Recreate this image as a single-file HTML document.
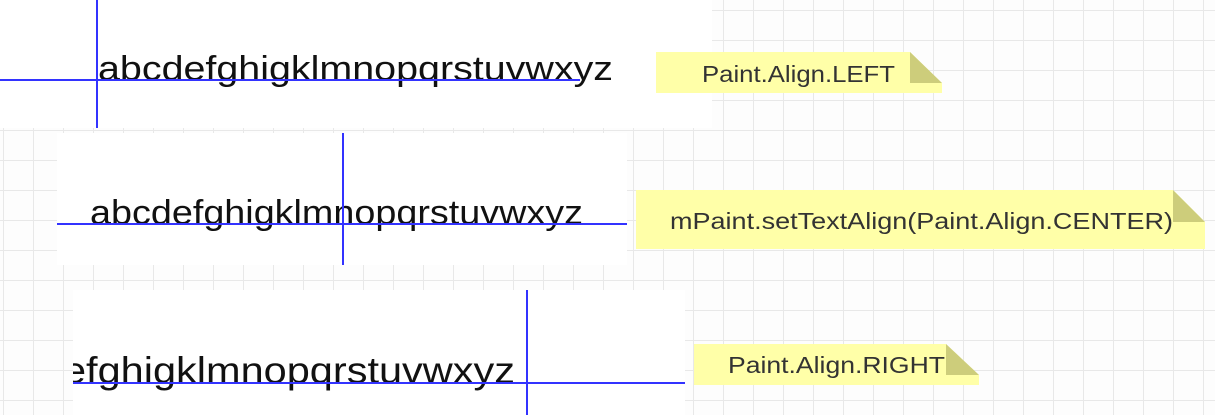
<!DOCTYPE html>
<html><head><meta charset="utf-8"><style>
html,body{margin:0;padding:0;background:#fff;}
svg{display:block}
</style></head><body>
<svg width="1215" height="415" xmlns="http://www.w3.org/2000/svg">
<defs>
<pattern id="g" x="3" y="10" width="30" height="30" patternUnits="userSpaceOnUse">
<rect width="30" height="30" fill="#fdfdfd"/>
<path d="M0 0H30M0 0V30" stroke="#e8e8e8" stroke-width="2"/>
</pattern>
</defs>
<rect width="1215" height="415" fill="url(#g)"/>
<rect x="0" y="0" width="712" height="128" fill="#fff"/>
<rect x="57" y="133" width="570" height="132" fill="#fff"/>
<rect x="73" y="290" width="612" height="125" fill="#fff"/>
<g font-family="Liberation Sans, sans-serif" fill="#111" font-size="34">
<text x="98" y="80" textLength="515" lengthAdjust="spacingAndGlyphs">abcdefghigklmnopqrstuvwxyz</text>
<text x="90" y="224" textLength="493" lengthAdjust="spacingAndGlyphs">abcdefghigklmnopqrstuvwxyz</text>
<svg x="73" y="290" width="612" height="125"><text x="-100" y="93" font-size="37" textLength="542" lengthAdjust="spacingAndGlyphs">abcdefghigklmnopqrstuvwxyz</text></svg>
</g>
<g stroke="#3333ff" stroke-width="2">
<line x1="0" y1="80" x2="580" y2="80"/><line x1="97" y1="0" x2="97" y2="128"/>
<line x1="57" y1="224" x2="627" y2="224"/><line x1="343" y1="133" x2="343" y2="265"/>
<line x1="73" y1="383" x2="685" y2="383"/><line x1="527" y1="290" x2="527" y2="415"/>
</g>
<g font-family="Liberation Sans, sans-serif" fill="#333" font-size="23">
<path d="M656 52H910L942 83V93H656Z" fill="#ffffa8"/><path d="M910 52V83H942Z" fill="#cdcd7b"/>
<text x="702" y="82" textLength="193" lengthAdjust="spacingAndGlyphs">Paint.Align.LEFT</text>
<path d="M636 190H1173L1205 222V249H636Z" fill="#ffffa8"/><path d="M1173 190V222H1205Z" fill="#cdcd7b"/>
<text x="670" y="229" textLength="503" lengthAdjust="spacingAndGlyphs">mPaint.setTextAlign(Paint.Align.CENTER)</text>
<path d="M694 344H946L979 375V385H694Z" fill="#ffffa8"/><path d="M946 344V375H979Z" fill="#cdcd7b"/>
<text x="728" y="373" textLength="217" lengthAdjust="spacingAndGlyphs">Paint.Align.RIGHT</text>
</g>
</svg>
</body></html>
